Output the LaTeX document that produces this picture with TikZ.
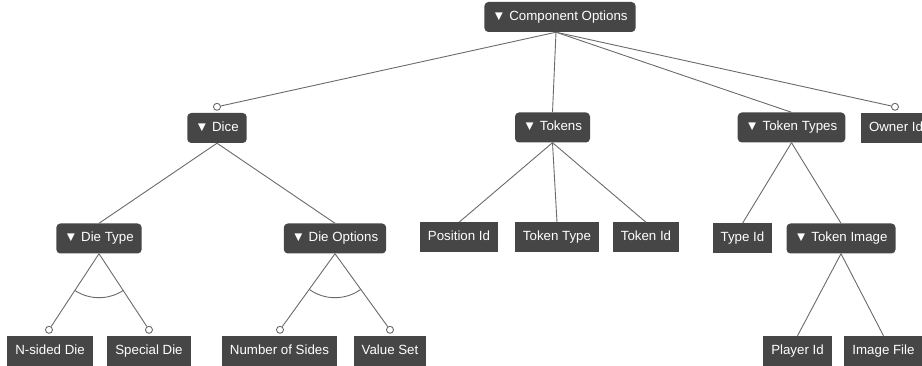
\documentclass[tikz,border=0pt]{standalone}
\usepackage{fontspec}
\setmainfont{Liberation Sans}
\usetikzlibrary{calc,angles}
\definecolor{boxfill}{HTML}{464646}
\definecolor{edge}{HTML}{6A6A6A}
\definecolor{label}{HTML}{FFFFFF}
\tikzset{
  feat/.style={fill=boxfill, text=label, inner xsep=8pt, inner ysep=0pt,
    text height=10pt, text depth=3pt,
    minimum height=30pt, font=\fontsize{13.3}{15}\selectfont},
  group/.style={feat, rounded corners=4pt},
  leaf/.style={feat},
  link/.style={draw=edge, line width=0.9pt},
  opt/.style={circle, draw=edge, fill=white, line width=0.9pt, inner sep=0pt, minimum size=7pt},
  alt/.style={draw=edge, line width=0.9pt, angle radius=44pt}
}

\begin{document}
\begin{tikzpicture}[x=1pt, y=-1pt]
  \useasboundingbox (0,0) rectangle (922,366);

  % top level
  \node[group] (comp) at (560,17) {▼ Component Options};

  \node[group] (dice)   at (217,128)   {▼ Dice};
  \node[group] (tokens) at (552.5,127.5) {▼ Tokens};
  \node[group] (ttypes) at (791.5,127.5) {▼ Token Types};
  \node[leaf]  (owner)  at (896,128)   {Owner Id};

  \node[group] (dtype)  at (99,238.5)  {▼ Die Type};
  \node[group] (dopts)  at (335,238.5) {▼ Die Options};
  \node[leaf]  (posid)  at (459,237.5) {Position Id};
  \node[leaf]  (ttype)  at (557,237.5) {Token Type};
  \node[leaf]  (tid)    at (646,237.5) {Token Id};
  \node[leaf]  (typeid) at (742.5,238.5) {Type Id};
  \node[group] (timg)   at (841,238.5) {▼ Token Image};

  \node[leaf] (nsided)  at (50,351)    {N-sided Die};
  \node[leaf] (special) at (149,351)   {Special Die};
  \node[leaf] (nsides)  at (279.5,351) {Number of Sides};
  \node[leaf] (valset)  at (390,351)   {Value Set};
  \node[leaf] (player)  at (797.5,351) {Player Id};
  \node[leaf] (imgfile) at (883.5,351) {Image File};

  % optional markers
  \node[opt] (dice-o)    at ($(dice.north)+(0,-6)$) {};
  \node[opt] (owner-o)   at ($(owner.north)+(-1,-6)$) {};
  \node[opt] (nsided-o)  at ($(nsided.north)+(-1,-6)$) {};
  \node[opt] (special-o) at ($(special.north)+(0,-6)$) {};
  \node[opt] (nsides-o)  at ($(nsides.north)+(0.5,-6)$) {};
  \node[opt] (valset-o)  at ($(valset.north)+(0,-6)$) {};

  \coordinate (comp-b)  at ($(comp.south)+(-4,0)$);
  \coordinate (dtype-b) at (dtype.south);
  \coordinate (dopts-b) at (dopts.south);

  \draw[link] (comp-b) -- (dice-o);
  \draw[link] (comp-b) -- (tokens.north);
  \draw[link] (comp-b) -- (ttypes.north);
  \draw[link] (comp-b) -- (owner-o);

  \draw[link] (dice.south) -- (dtype.north);
  \draw[link] (dice.south) -- (dopts.north);
  \draw[link] (tokens.south) -- (posid.north);
  \draw[link] (tokens.south) -- (ttype.north);
  \draw[link] (tokens.south) -- (tid.north);
  \draw[link] (ttypes.south) -- (typeid.north);
  \draw[link] (ttypes.south) -- (timg.north);

  \draw[link] (dtype-b) -- (nsided-o);
  \draw[link] (dtype-b) -- (special-o);
  \draw[link] (dopts-b) -- (nsides-o);
  \draw[link] (dopts-b) -- (valset-o);
  \draw[link] (timg.south) -- (player.north);
  \draw[link] (timg.south) -- (imgfile.north);

  % alternative groups
  \pic[alt] {angle = nsided-o--dtype-b--special-o};
  \pic[alt] {angle = nsides-o--dopts-b--valset-o};
\end{tikzpicture}
\end{document}
